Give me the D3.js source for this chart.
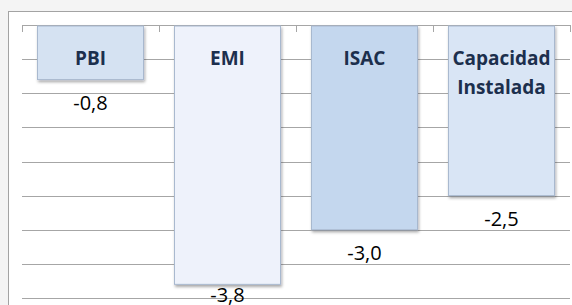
<!DOCTYPE html>
<html lang="es">
<head>
<meta charset="utf-8" />
<title>Variación</title>
<style>
html, body {
	margin: 0;
	padding: 0;
	background: #f4f4f4;
}
svg {
	display: block;
}
</style>
</head>
<body>
<svg width="572" height="305"></svg>

<script src="https://cdn.jsdelivr.net/npm/d3@7"></script>
<script>
// datos
var categorias = ["PBI", "EMI", "ISAC", "Capacidad Instalada"];
var valores = [-0.8, -3.8, -3.0, -2.5];
var etiquetas = ["-0,8", "-3,8", "-3,0", "-2,5"];
var colores = ["#d5e2f2", "#eef2fb", "#c4d7ee", "#d9e5f5"];
var lineasGuia = [0, -0.5, -1, -1.5, -2, -2.5, -3, -3.5, -4];

var svg = d3.select("svg");
var w = 572, h = 305;

// area del grafico (blanca, borde gris)
svg.append("rect")
	.attr("x", 8.5).attr("y", 11.5)
	.attr("width", w + 20).attr("height", h + 20)
	.attr("fill", "#ffffff")
	.attr("stroke", "#a3a3a3");

var defs = svg.append("defs");
var f = defs.append("filter").attr("id", "sombra")
	.attr("x", "-10%").attr("y", "-10%").attr("width", "130%").attr("height", "130%");
f.append("feDropShadow")
	.attr("dx", 1).attr("dy", 2).attr("stdDeviation", 1.5)
	.attr("flood-color", "#000").attr("flood-opacity", 0.35);

var x = d3.scaleBand().domain(categorias).range([22, 570]).paddingInner(0.226).paddingOuter(0.113);
var y = d3.scaleLinear().domain([0, -4]).range([25, 298]);

// lineas de division
svg.append("g").selectAll("line")
	.data(lineasGuia)
	.join("line")
	.attr("x1", 22).attr("x2", 570)
	.attr("y1", function(d){ return Math.round(y(d)) + 0.5; })
	.attr("y2", function(d){ return Math.round(y(d)) + 0.5; })
	.attr("stroke", "#a6a6a6")
	.attr("stroke-width", 1.2);

// eje en cero con marcas
var bordes = d3.range(categorias.length + 1).map(function(i){ return 22 + i * (548 / categorias.length); });
svg.append("g").selectAll("line")
	.data(bordes)
	.join("line")
	.attr("x1", function(d){ return Math.round(d) + 0.5; })
	.attr("x2", function(d){ return Math.round(d) + 0.5; })
	.attr("y1", Math.round(y(0)))
	.attr("y2", Math.round(y(0)) + 7)
	.attr("stroke", "#a6a6a6");

// barras
svg.append("g").selectAll("rect")
	.data(valores)
	.join("rect")
	.attr("x", function(d, i){ return x(categorias[i]); })
	.attr("y", y(0) + 1)
	.attr("width", x.bandwidth())
	.attr("height", function(d){ return y(d) - y(0) - 1; })
	.attr("fill", function(d, i){ return colores[i]; })
	.attr("stroke", "#a8b8cf")
	.attr("stroke-width", 1)
	.attr("filter", "url(#sombra)");

// nombres dentro de las barras
svg.append("g").selectAll("text")
	.data(categorias)
	.join("text")
	.attr("x", function(d){ return x(d) + x.bandwidth() / 2; })
	.attr("y", 65)
	.attr("text-anchor", "middle")
	.attr("font-family", "'Open Sans', sans-serif")
	.attr("font-weight", "bold")
	.attr("font-size", 19)
	.attr("fill", "#1c2f4d")
	.each(function(d){
		var t = d3.select(this);
		var partes = d.split(" ");
		partes.forEach(function(p, k){
			t.append("tspan")
				.attr("x", x(d) + x.bandwidth() / 2)
				.attr("dy", k === 0 ? 0 : 29)
				.text(p);
		});
	});

// valores debajo de las barras
svg.append("g").selectAll("text")
	.data(valores)
	.join("text")
	.attr("x", function(d, i){ return x(categorias[i]) + x.bandwidth() / 2; })
	.attr("y", function(d){ return Math.min(y(d) + 30, 302); })
	.attr("text-anchor", "middle")
	.attr("font-family", "'Open Sans', sans-serif")
	.attr("font-size", 20)
	.attr("fill", "#000")
	.text(function(d, i){ return etiquetas[i]; });
</script>
</body>
</html>
